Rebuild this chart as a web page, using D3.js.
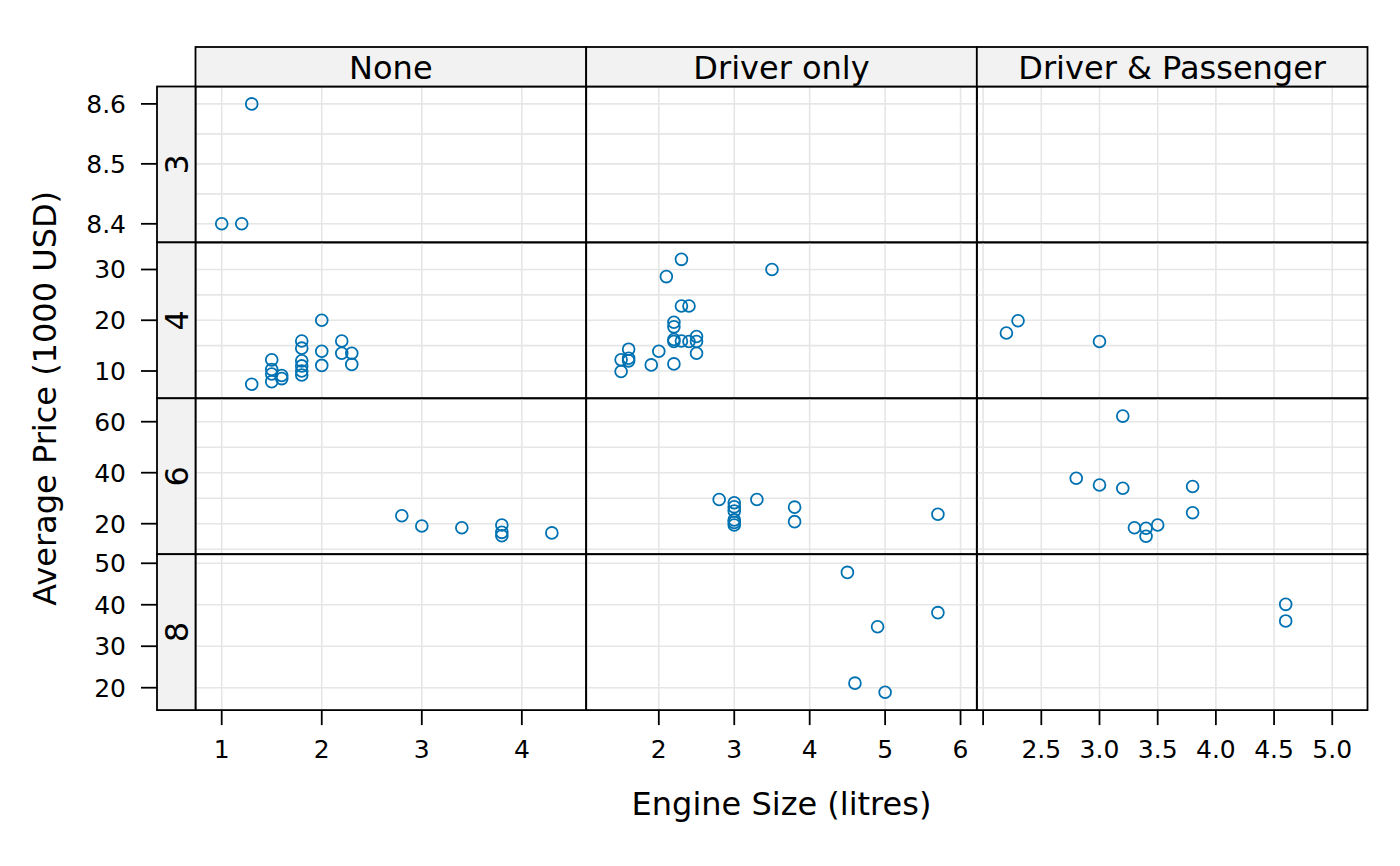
<!doctype html>
<html lang="en">
  <head>
    <meta charset="UTF-8" />
    <title>Average Price by Engine Size</title>
    <style>
      body { margin: 0; background: #fff; }
      text { font-family: "DejaVu Sans", sans-serif; fill: #000; }
    </style>
  </head>
  <body>
    <svg id="chart" width="1400" height="866"></svg>
    <script src="https://d3js.org/d3.v7.min.js"></script>
    <script>
      /* global d3 */

      // columns (AirBags) and rows (Cylinders)
      const airbags = ["None", "Driver only", "Driver & Passenger"];
      const cylinders = ["3", "4", "6", "8"];

      // axis limits per column / row
      const xLimits = [[0.738, 4.643], [1.037, 6.216], [1.946, 5.303]];
      const yLimits = [[8.369, 8.629], [4.62, 35.34], [8.04, 69.18], [14.6, 52.19]];

      // tick values and grid values
      const xTicks = [[1, 2, 3, 4], [2, 3, 4, 5, 6], [2, 2.5, 3, 3.5, 4, 4.5, 5]];
      const xTickLabels = [["1", "2", "3", "4"], ["2", "3", "4", "5", "6"], ["", "2.5", "3.0", "3.5", "4.0", "4.5", "5.0"]];
      const xGrid = xTicks;
      const yTicks = [[8.4, 8.5, 8.6], [10, 20, 30], [20, 40, 60], [20, 30, 40, 50]];
      const yTickLabels = [["8.4", "8.5", "8.6"], ["10", "20", "30"], ["20", "40", "60"], ["20", "30", "40", "50"]];
      const yGrid = [[8.4, 8.45, 8.5, 8.55, 8.6], [10, 15, 20, 25, 30], [10, 20, 30, 40, 50, 60], [20, 30, 40, 50]];

      // [engine size, average price]
      const none3 = [[1.0, 8.4], [1.2, 8.4], [1.3, 8.6]];
      const none4 = [
        [1.3, 7.4], [1.5, 12.2], [1.5, 10.3], [1.5, 9.4], [1.5, 7.9],
        [1.6, 9.1], [1.6, 8.5], [1.8, 15.9], [1.8, 14.5], [1.8, 12.0],
        [1.8, 11.0], [1.8, 10.0], [1.8, 9.2], [2.0, 20.0], [2.0, 13.9],
        [2.0, 11.1], [2.2, 15.9], [2.2, 13.5], [2.3, 13.5], [2.3, 11.3]
      ];
      const none6 = [[2.8, 23.1], [3.0, 19.1], [3.4, 18.4], [3.8, 19.5], [3.8, 16.6], [3.8, 15.3], [4.3, 16.4]];
      const none8 = [];
      const driver3 = [];
      const driver4 = [
        [2.3, 32.0], [2.1, 28.6], [2.3, 22.8], [2.4, 22.8], [2.2, 19.6],
        [2.2, 18.7], [2.2, 16.2], [2.2, 15.8], [2.3, 15.9], [2.4, 15.8],
        [2.5, 16.8], [2.5, 15.8], [2.5, 13.5], [2.2, 11.4], [2.0, 13.9],
        [1.9, 11.2], [1.6, 14.3], [1.6, 12.5], [1.5, 12.2], [1.6, 12.0],
        [1.5, 9.9], [3.5, 30.0]
      ];
      const driver6 = [
        [2.8, 29.5], [3.0, 28.2], [3.0, 26.6], [3.0, 25.0], [3.0, 21.5],
        [3.0, 20.5], [3.0, 19.5], [3.3, 29.5], [3.8, 26.5], [3.8, 20.8], [5.7, 23.7]
      ];
      const driver8 = [[4.5, 47.8], [5.7, 38.1], [4.9, 34.7], [4.6, 21.1], [5.0, 18.9]];
      const both3 = [];
      const both4 = [[2.2, 17.5], [2.3, 19.9], [3.0, 15.8]];
      const both6 = [
        [3.2, 62.2], [2.8, 37.8], [3.0, 35.2], [3.2, 33.9], [3.8, 34.6],
        [3.8, 24.3], [3.3, 18.4], [3.4, 18.2], [3.4, 15.1], [3.5, 19.5]
      ];
      const both8 = [[4.6, 40.1], [4.6, 36.1]];

      const panelData = [
        [none3, driver3, both3],
        [none4, driver4, both4],
        [none6, driver6, both6],
        [none8, driver8, both8]
      ];

      const panelLeft = 195.5, panelTop = 86.5, colW = 390.67, rowH = 155.9;
      const stripTop = 47, stripLeft = 157;
      const pointColor = "#0072b2";
      const gridColor = "#e6e6e6";
      const stripFill = "#f2f2f2";

      const svg = d3.select("#chart");

      const xScales = xLimits.map((dom, i) =>
        d3.scaleLinear().domain(dom).range([panelLeft + i * colW, panelLeft + (i + 1) * colW])
      );
      const yScales = yLimits.map((dom, j) =>
        d3.scaleLinear().domain(dom).range([panelTop + (j + 1) * rowH, panelTop + j * rowH])
      );

      // panels
      cylinders.forEach((cyl, j) => {
        airbags.forEach((ab, i) => {
          const xs = xScales[i], ys = yScales[j];
          const g = svg.append("g");
          g.selectAll("line.v")
            .data(xGrid[i])
            .join("line")
            .attr("class", "v")
            .attr("x1", xs).attr("x2", xs)
            .attr("y1", ys.range()[1]).attr("y2", ys.range()[0])
            .attr("stroke", gridColor).attr("stroke-width", 1.6);
          g.selectAll("line.h")
            .data(yGrid[j])
            .join("line")
            .attr("class", "h")
            .attr("x1", xs.range()[0]).attr("x2", xs.range()[1])
            .attr("y1", ys).attr("y2", ys)
            .attr("stroke", gridColor).attr("stroke-width", 1.6);
          g.selectAll("circle")
            .data(panelData[j][i])
            .join("circle")
            .attr("cx", (d) => xs(d[0]))
            .attr("cy", (d) => ys(d[1]))
            .attr("r", 5.9)
            .attr("fill", "none")
            .attr("stroke", pointColor)
            .attr("stroke-width", 1.8);
          g.append("rect")
            .attr("x", xs.range()[0]).attr("y", ys.range()[1])
            .attr("width", colW).attr("height", rowH)
            .attr("fill", "none").attr("stroke", "#000").attr("stroke-width", 1.8);
        });
      });

      // top strips
      airbags.forEach((ab, i) => {
        const x0 = xScales[i].range()[0];
        svg.append("rect")
          .attr("x", x0).attr("y", stripTop)
          .attr("width", colW).attr("height", panelTop - stripTop)
          .attr("fill", stripFill).attr("stroke", "#000").attr("stroke-width", 1.8);
        svg.append("text")
          .attr("x", x0 + colW / 2).attr("y", 78.5)
          .attr("text-anchor", "middle")
          .attr("font-size", 32)
          .text(ab);
      });

      // left strips
      cylinders.forEach((cyl, j) => {
        const y0 = yScales[j].range()[1];
        svg.append("rect")
          .attr("x", stripLeft).attr("y", y0)
          .attr("width", panelLeft - stripLeft).attr("height", rowH)
          .attr("fill", stripFill).attr("stroke", "#000").attr("stroke-width", 1.8);
        svg.append("text")
          .attr("transform", `translate(188,${y0 + rowH / 2}) rotate(-90)`)
          .attr("text-anchor", "middle")
          .attr("font-size", 32)
          .text(cyl);
      });

      // bottom axes
      xScales.forEach((xs, i) => {
        const g = svg.append("g").attr("transform", `translate(0,${panelTop + 4 * rowH})`);
        const ticks = g.selectAll("g").data(xTicks[i]).join("g")
          .attr("transform", (d) => `translate(${xs(d)},0)`);
        ticks.append("line").attr("y2", 15).attr("stroke", "#000").attr("stroke-width", 1.8);
        ticks.append("text")
          .attr("y", 48).attr("text-anchor", "middle").attr("font-size", 25)
          .text((d, k) => xTickLabels[i][k]);
      });

      // left axes
      yScales.forEach((ys, j) => {
        const g = svg.append("g").attr("transform", `translate(${stripLeft},0)`);
        const ticks = g.selectAll("g").data(yTicks[j]).join("g")
          .attr("transform", (d) => `translate(0,${ys(d)})`);
        ticks.append("line").attr("x2", -16).attr("stroke", "#000").attr("stroke-width", 1.8);
        ticks.append("text")
          .attr("x", -31).attr("dy", "0.36em").attr("text-anchor", "end").attr("font-size", 25)
          .text((d, k) => yTickLabels[j][k]);
      });

      // axis titles
      svg.append("text")
        .attr("x", panelLeft + 1.5 * colW).attr("y", 815)
        .attr("text-anchor", "middle").attr("font-size", 32)
        .text("Engine Size (litres)");
      svg.append("text")
        .attr("transform", `translate(56,${panelTop + 2 * rowH}) rotate(-90)`)
        .attr("text-anchor", "middle").attr("font-size", 32)
        .text("Average Price (1000 USD)");
    </script>
  </body>
</html>
